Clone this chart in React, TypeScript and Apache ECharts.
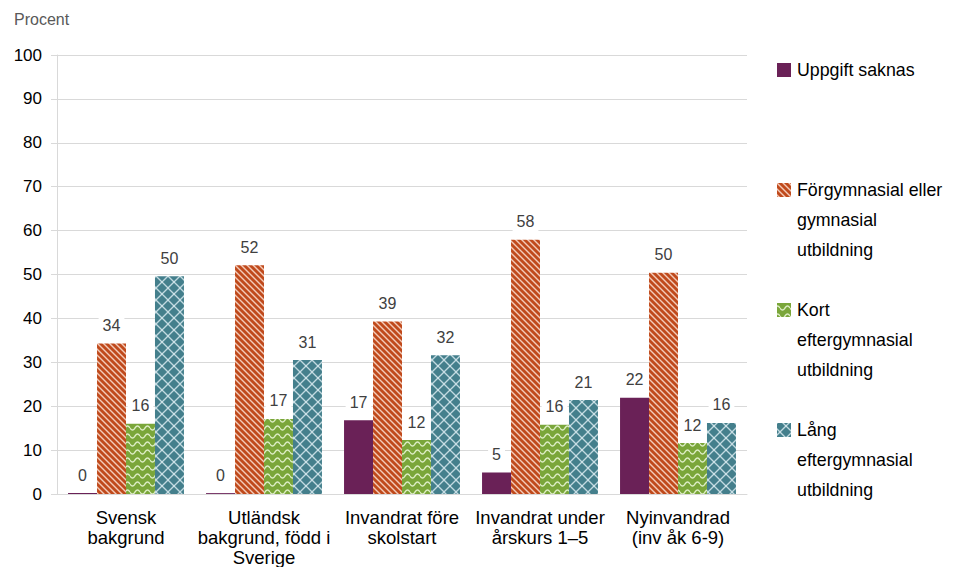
import React, { useEffect, useRef } from "react";
import * as echarts from "echarts";

const categories = [
  "Svensk\nbakgrund",
  "Utländsk\nbakgrund, född i\nSverige",
  "Invandrat före\nskolstart",
  "Invandrat under\nårskurs 1–5",
  "Nyinvandrad\n(inv åk 6-9)",
];
const seriesNames = [
  "Uppgift saknas",
  "Förgymnasial eller gymnasial utbildning",
  "Kort eftergymnasial utbildning",
  "Lång eftergymnasial utbildning",
];
const legendLabels = [
  "Uppgift saknas",
  "Förgymnasial eller\ngymnasial\nutbildning",
  "Kort\neftergymnasial\nutbildning",
  "Lång\neftergymnasial\nutbildning",
];
const uppgiftSaknas = [0.2, 0.2, 16.8, 4.9, 21.9];
const forgymnasial = [34.3, 52.1, 39.3, 57.9, 50.4];
const kortEfter = [16.0, 17.1, 12.3, 15.8, 11.6];
const langEfter = [49.6, 30.5, 31.6, 21.4, 16.2];
const yTicks = [0, 100, 10];

const baseColors = ["#6A2157", "#C04A1C", "#7AA63A", "#447F8C"];
const FONT = "'Liberation Sans', Arial, sans-serif";

function makePattern(kind: number): any {
  if (kind === 0) return baseColors[0];
  const c = document.createElement("canvas");
  const ctx = c.getContext("2d")!;
  if (kind === 1) {
    const s = 6;
    c.width = s;
    c.height = s;
    ctx.fillStyle = baseColors[1];
    ctx.fillRect(0, 0, s, s);
    ctx.strokeStyle = "rgba(255,235,225,0.8)";
    ctx.lineWidth = 1.4;
    for (let k = -1; k <= 1; k++) {
      ctx.beginPath();
      ctx.moveTo(k * s - 1, -1);
      ctx.lineTo(k * s + s + 1, s + 1);
      ctx.stroke();
    }
  } else if (kind === 2) {
    const w = 10, h = 8;
    c.width = w;
    c.height = h;
    ctx.fillStyle = baseColors[2];
    ctx.fillRect(0, 0, w, h);
    ctx.strokeStyle = "rgba(240,250,225,0.85)";
    ctx.lineWidth = 1.4;
    ctx.beginPath();
    for (let x = 0; x <= w; x += 0.5) {
      const y = 4 + 2 * Math.sin((2 * Math.PI * x) / w);
      if (x === 0) ctx.moveTo(x, y);
      else ctx.lineTo(x, y);
    }
    ctx.stroke();
  } else {
    const s = 12;
    c.width = s;
    c.height = s;
    ctx.fillStyle = baseColors[3];
    ctx.fillRect(0, 0, s, s);
    ctx.strokeStyle = "rgba(225,240,245,0.8)";
    ctx.lineWidth = 1.3;
    for (let k = -1; k <= 1; k++) {
      ctx.beginPath();
      ctx.moveTo(k * s, 0);
      ctx.lineTo(k * s + s, s);
      ctx.stroke();
      ctx.beginPath();
      ctx.moveTo(k * s + s, 0);
      ctx.lineTo(k * s, s);
      ctx.stroke();
    }
  }
  return { image: c, repeat: "repeat" };
}

export default function App() {
  const ref = useRef<HTMLDivElement>(null);
  useEffect(() => {
    if (!ref.current) return;
    const chart = echarts.init(ref.current, null, { renderer: "svg" });
    const fills = [0, 1, 2, 3].map((k) => makePattern(k));
    const data = [uppgiftSaknas, forgymnasial, kortEfter, langEfter];
    const legendTops = [70, 190, 310, 430];
    const graphics: any[] = [
      {
        type: "text",
        left: 14,
        top: 11,
        style: { text: "Procent", fill: "#595959", fontSize: 16, fontFamily: FONT },
      },
    ];
    legendLabels.forEach((lbl, i) => {
      graphics.push({
        type: "rect",
        shape: { x: 777, y: legendTops[i] - 7, width: 14, height: 14 },
        style: { fill: fills[i] },
      });
      graphics.push({
        type: "text",
        x: 797,
        y: legendTops[i] - 15,
        style: {
          text: lbl,
          fill: "#000",
          fontSize: 17.8,
          lineHeight: 30,
          fontFamily: FONT,
          verticalAlign: "top",
        },
      });
    });
    chart.setOption({
      animation: false,
      textStyle: { fontFamily: FONT },
      grid: { left: 57, right: 207, top: 55, bottom: 73 },
      legend: { show: false },
      graphic: graphics,
      xAxis: {
        type: "category",
        data: categories,
        axisLine: { lineStyle: { color: "#d9d9d9" } },
        axisTick: { show: false },
        axisLabel: {
          interval: 0,
          color: "#000",
          fontSize: 18.5,
          lineHeight: 20,
          margin: 13,
          fontFamily: FONT,
        },
      },
      yAxis: {
        type: "value",
        min: yTicks[0],
        max: yTicks[1],
        interval: yTicks[2],
        axisLine: { show: true, lineStyle: { color: "#d9d9d9" } },
        axisTick: { show: true, length: 6, lineStyle: { color: "#d9d9d9" } },
        splitLine: { lineStyle: { color: "#d9d9d9" } },
        axisLabel: { color: "#000", fontSize: 17, margin: 15, fontFamily: FONT },
      },
      series: seriesNames.map((name, i) => ({
        name,
        type: "bar",
        data: data[i],
        barGap: "0%",
        barCategoryGap: "16%",
        itemStyle: { color: fills[i] },
        label: {
          show: true,
          position: "top",
          distance: 8,
          color: "#404040",
          fontSize: 16,
          fontFamily: FONT,
          backgroundColor: "#fff",
          padding: [2, 4],
          formatter: (p: any) => String(Math.round(p.value)),
        },
      })),
    });
    return () => chart.dispose();
  }, []);
  return <div ref={ref} style={{ width: 954, height: 567, marginLeft: -8, marginTop: -8 }} />;
}
